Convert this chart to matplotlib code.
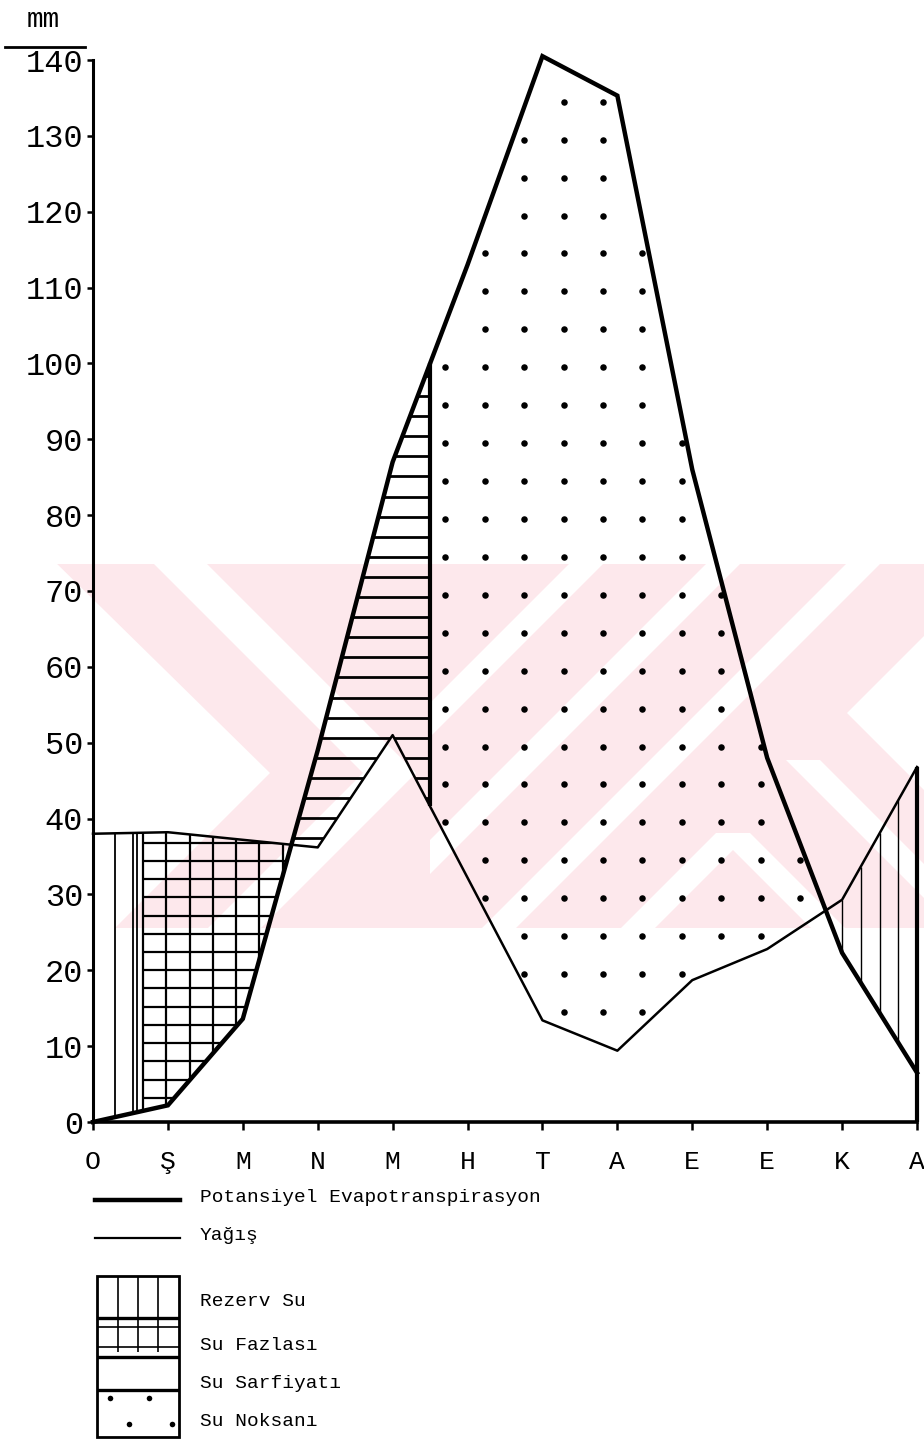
import numpy as np
import matplotlib
matplotlib.use('Agg')
import matplotlib.pyplot as plt
from matplotlib.patches import Polygon, Rectangle
from matplotlib.lines import Line2D

plt.rcParams['font.family'] = ['Liberation Mono', 'DejaVu Sans Mono']

# monthly values (mm)
months = ['O', 'Ş', 'M', 'N', 'M', 'H', 'T', 'A', 'E', 'E', 'K', 'A']
pet = [0, 2.2, 13.6, 49, 87, 113, 140.5, 135.3, 86, 48, 22.3, 6.5]
rain = [38, 38.2, 37.2, 36.2, 51, 32.2, 13.4, 9.4, 18.7, 22.8, 29.3, 46.8]
yticks = list(range(0, 141, 10))

# where the reserve part ends and where the deficit part starts (month units)
reserve_end = 0.67
deficit_start = 4.5

x = np.arange(len(months))
xf = np.linspace(0, 11, 4401)
diff = np.interp(xf, x, pet) - np.interp(xf, x, rain)
cross = xf[np.where(np.diff(np.sign(diff)) != 0)[0]]

fig = plt.figure(figsize=(9.24, 14.42), dpi=100)

# background layer in pixel coords (watermark + legend)
lax = fig.add_axes([0, 0, 1, 1], zorder=0)
lax.set_xlim(0, 924)
lax.set_ylim(1442, 0)
lax.axis('off')

# pale watermark: pink band with white cut-outs
wm = '#fde8ec'
band = Rectangle((57, 564), 867, 364, fc=wm, ec='none')
lax.add_patch(band)
band_clip = Rectangle((57, 564), 867, 364, transform=lax.transData)
right_clip = Rectangle((430, 564), 494, 364, transform=lax.transData)
L = 400
cutouts = [
    [(50, 557), (270, 773), (90, 953), (50, 953)],
    [(363 - L, 773 - L), (363, 773), (363 - L, 773 + L),
     (416 - L, 773 + L), (416, 773), (416 - L, 773 - L)],
    [(716, 833), (750, 833), (650, 933), (616, 933)],
    [(716, 833), (750, 833), (850, 933), (816, 933)],
    [(786, 760), (820, 760), (1020, 960), (986, 960)],
    [(847, 713), (1100, 460), (1100, 966)],
]
for verts in cutouts:
    p = Polygon(verts, closed=True, fc='white', ec='none')
    lax.add_patch(p)
    p.set_clip_path(band_clip)
for cx in [586, 723, 863]:
    p = Polygon([(cx - 17, 564), (cx + 17, 564), (cx + 17 - L, 564 + L), (cx - 17 - L, 564 + L)],
                closed=True, fc='white', ec='none')
    lax.add_patch(p)
    p.set_clip_path(right_clip)

# main chart
ax = fig.add_axes([93 / 924, 1 - 1122 / 1442, 824 / 924, 1062 / 1442], zorder=1)
ax.set_facecolor('none')
ax.set_xlim(0, 11)
ax.set_ylim(0, 140)


def region(x0, x1):
    xs = np.linspace(x0, x1, 300)
    a = np.interp(xs, x, pet)
    b = np.interp(xs, x, rain)
    verts = np.column_stack([np.r_[xs, xs[::-1]], np.r_[a, b[::-1]]])
    p = Polygon(verts, closed=True, fc='none', ec='none')
    ax.add_patch(p)
    return p


def vhatch(xs, lw):
    ax.vlines(xs, np.interp(xs, x, pet), np.interp(xs, x, rain),
              color='black', lw=lw, clip_on=False)


# Rezerv Su (left)
vhatch(np.arange(0.29, reserve_end - 0.05, 0.24), 1.3)
vhatch([0.59], 1.3)

# Su Fazlasi (grid)
vhatch(np.arange(reserve_end, cross[0], 0.31), 1.6)
reg = region(reserve_end, cross[0])
hl = ax.hlines(np.arange(3.2, 38, 2.4), reserve_end, cross[0], color='black', lw=1.6)
hl.set_clip_path(reg)

# Su Sarfiyati (horizontal lines)
reg = region(cross[0], deficit_start)
hl = ax.hlines(np.arange(37.4, 101, 2.65), cross[0], deficit_start, color='black', lw=2.0)
hl.set_clip_path(reg)
vhatch([deficit_start], 3.0)

# Su Noksani (dots)
gx, gy = np.meshgrid(np.arange(4.7, cross[1], 0.527), np.arange(14.5, 141, 5))
gx, gy = gx.ravel(), gy.ravel()
keep = (gy > np.interp(gx, x, rain) + 0.9) & (gy < np.interp(gx, x, pet) - 0.9)
ax.scatter(gx[keep], gy[keep], s=22, color='black', lw=0)

# Rezerv Su (right)
vhatch(np.arange(10, 10.9, 0.25), 1.0)
ax.vlines(11, 0, rain[-1], color='black', lw=3.0, clip_on=False)

ax.plot(x, pet, color='black', lw=3.2, clip_on=False, solid_joinstyle='miter')
ax.plot(x, rain, color='black', lw=1.8, clip_on=False)

for s in ['top', 'right']:
    ax.spines[s].set_visible(False)
ax.spines['left'].set_linewidth(2.2)
ax.spines['bottom'].set_linewidth(2.6)

ax.set_yticks(yticks)
ax.set_yticklabels([str(v) for v in yticks])
ax.set_xticks(x)
ax.set_xticklabels(months)
ax.tick_params(axis='y', direction='out', length=4, width=1.8, labelsize=23, pad=3)
ax.tick_params(axis='x', direction='out', length=6, width=1.8, labelsize=19, pad=14)

# unit label
fig.text(43 / 924, 1 - 20 / 1442, 'mm', ha='center', va='center', fontsize=20)
fig.add_artist(Line2D([5 / 924, 85 / 924], [1 - 47 / 1442] * 2,
                      transform=fig.transFigure, color='black', lw=2))

# legend
lax.plot([95, 180], [1200, 1200], color='black', lw=3.2)
lax.text(200, 1197, 'Potansiyel Evapotranspirasyon', va='center', fontsize=14)
lax.plot([95, 180], [1238, 1238], color='black', lw=1.6)
lax.text(200, 1235, 'Yağış', va='center', fontsize=14)

lax.add_patch(Rectangle((97, 1276), 82, 161, fill=False, ec='black', lw=2))
lax.vlines([118, 138, 158], 1276, 1352, color='black', lw=1.2)
lax.hlines([1318, 1357, 1390], 97, 179, color='black', lw=2.4)
lax.hlines([1327, 1347], 97, 179, color='black', lw=1.2)
lax.scatter([110, 149, 129, 172], [1398, 1398, 1424, 1424], s=16, color='black', lw=0)

for ty, txt in [(1302, 'Rezerv Su'), (1346, 'Su Fazlası'),
                (1384, 'Su Sarfiyatı'), (1422, 'Su Noksanı')]:
    lax.text(200, ty, txt, va='center', fontsize=14)

fig.savefig('out.png', dpi=100)
